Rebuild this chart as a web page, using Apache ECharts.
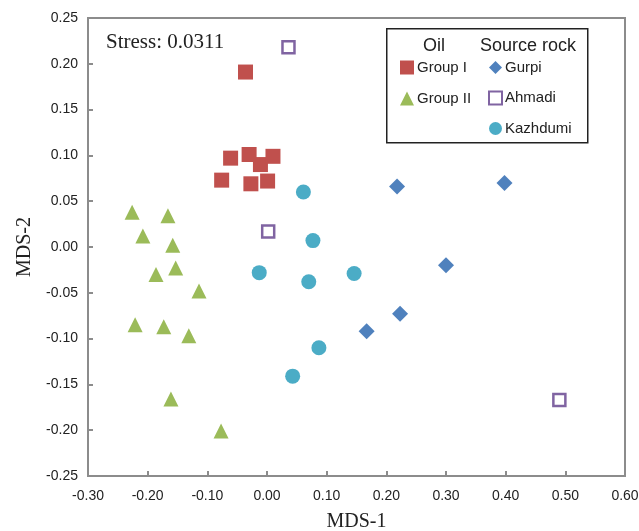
<!DOCTYPE html>
<html><head><meta charset="utf-8">
<script src="https://cdn.jsdelivr.net/npm/echarts@6/dist/echarts.min.js"></script>
<style>html,body{margin:0;padding:0;background:#fff}#c{width:639px;height:531px}</style>
</head><body><div id="c"></div>
<script>
const groupI = [[-0.036,0.191],[-0.030,0.101],[-0.061,0.097],[-0.076,0.073],[-0.027,0.069],[-0.011,0.090],[0.010,0.099],[0.001,0.072]];
const groupII = [[-0.226,0.038],[-0.166,0.034],[-0.208,0.012],[-0.158,0.002],[-0.186,-0.030],[-0.153,-0.023],[-0.114,-0.048],[-0.221,-0.085],[-0.173,-0.087],[-0.131,-0.097],[-0.161,-0.166],[-0.077,-0.201]];
const gurpi = [[0.218,0.066],[0.398,0.070],[0.300,-0.020],[0.223,-0.073],[0.167,-0.092]];
const ahmadi = [[0.036,0.218],[0.002,0.017],[0.490,-0.167]];
const kazhdumi = [[0.061,0.060],[0.077,0.007],[-0.013,-0.028],[0.070,-0.038],[0.146,-0.029],[0.087,-0.110],[0.043,-0.141]];
const stressText = 'Stress: 0.0311';

const chart = echarts.init(document.getElementById('c'));
const fmt = v => (Math.abs(v) < 1e-9 ? 0 : v).toFixed(2);
chart.setOption({
  animation: false,
  grid: {left: 88, right: 14, top: 18, bottom: 55, show: true, borderColor: '#8c8c8c', borderWidth: 2, containLabel: false, outerBoundsMode: 'none'},
  xAxis: {type: 'value', min: -0.3, max: 0.6, interval: 0.1,
    name: 'MDS-1', nameLocation: 'middle', nameGap: 36,
    nameTextStyle: {fontFamily: 'Liberation Serif', fontSize: 20, color: '#222'},
    axisLine: {show: true, onZero: false, lineStyle: {color: '#8c8c8c', width: 2}},
    axisTick: {show: true, inside: true, length: 5, lineStyle: {color: '#8c8c8c', width: 2}},
    splitLine: {show: false},
    axisLabel: {formatter: fmt, fontFamily: 'Liberation Sans', fontSize: 14, color: '#222', margin: 13}},
  yAxis: {type: 'value', min: -0.25, max: 0.25, interval: 0.05,
    name: 'MDS-2', nameLocation: 'middle', nameGap: 51,
    nameTextStyle: {fontFamily: 'Liberation Serif', fontSize: 20, color: '#222'},
    axisLine: {show: true, onZero: false, lineStyle: {color: '#8c8c8c', width: 2}},
    axisTick: {show: true, inside: true, length: 5, lineStyle: {color: '#8c8c8c', width: 2}},
    splitLine: {show: false},
    axisLabel: {formatter: fmt, fontFamily: 'Liberation Sans', fontSize: 14, color: '#222', margin: 10}},
  legend: [
    {data: ['Group I', 'Group II'], orient: 'vertical', left: 400, top: 60, padding: 0, itemGap: 16, itemWidth: 14, itemHeight: 14,
     textStyle: {fontFamily: 'Liberation Sans', fontSize: 15, color: '#222', padding: [0, 0, 0, -2]}},
    {data: ['Gurpi', 'Ahmadi', 'Kazhdumi'], orient: 'vertical', left: 488, top: 60, padding: 0, itemGap: 15.5, itemWidth: 13, itemHeight: 13,
     textStyle: {fontFamily: 'Liberation Sans', fontSize: 15, color: '#222', padding: [0, 0, 0, -2]}}
  ],
  graphic: [
    {type: 'rect', left: 386, top: 28, shape: {width: 201, height: 114}, style: {fill: '#fff', stroke: '#222', lineWidth: 1.5}, z: 0},
    {type: 'text', left: 423, top: 37, style: {text: 'Oil', fontFamily: 'Liberation Sans', fontSize: 18, fill: '#222'}, z: 10},
    {type: 'text', left: 480, top: 37, style: {text: 'Source rock', fontFamily: 'Liberation Sans', fontSize: 18, fill: '#222'}, z: 10},
    {type: 'text', left: 106, top: 32, style: {text: stressText, fontFamily: 'Liberation Serif', fontSize: 21, fill: '#222'}}
  ],
  series: [
    {name: 'Group I', type: 'scatter', data: groupI, symbol: 'rect', symbolSize: 15, itemStyle: {color: '#C0504D', opacity: 1}},
    {name: 'Group II', type: 'scatter', data: groupII, symbol: 'triangle', symbolSize: 15, itemStyle: {color: '#9BBB59', opacity: 1}},
    {name: 'Gurpi', type: 'scatter', data: gurpi, symbol: 'diamond', symbolSize: 16, itemStyle: {color: '#4F81BD', opacity: 1}},
    {name: 'Ahmadi', type: 'scatter', data: ahmadi, symbol: 'rect', symbolSize: 12, itemStyle: {color: '#fff', borderColor: '#8064A2', borderWidth: 2.5, opacity: 1}},
    {name: 'Kazhdumi', type: 'scatter', data: kazhdumi, symbol: 'circle', symbolSize: 15, itemStyle: {color: '#4BACC6', opacity: 1}}
  ]
});
</script></body></html>
